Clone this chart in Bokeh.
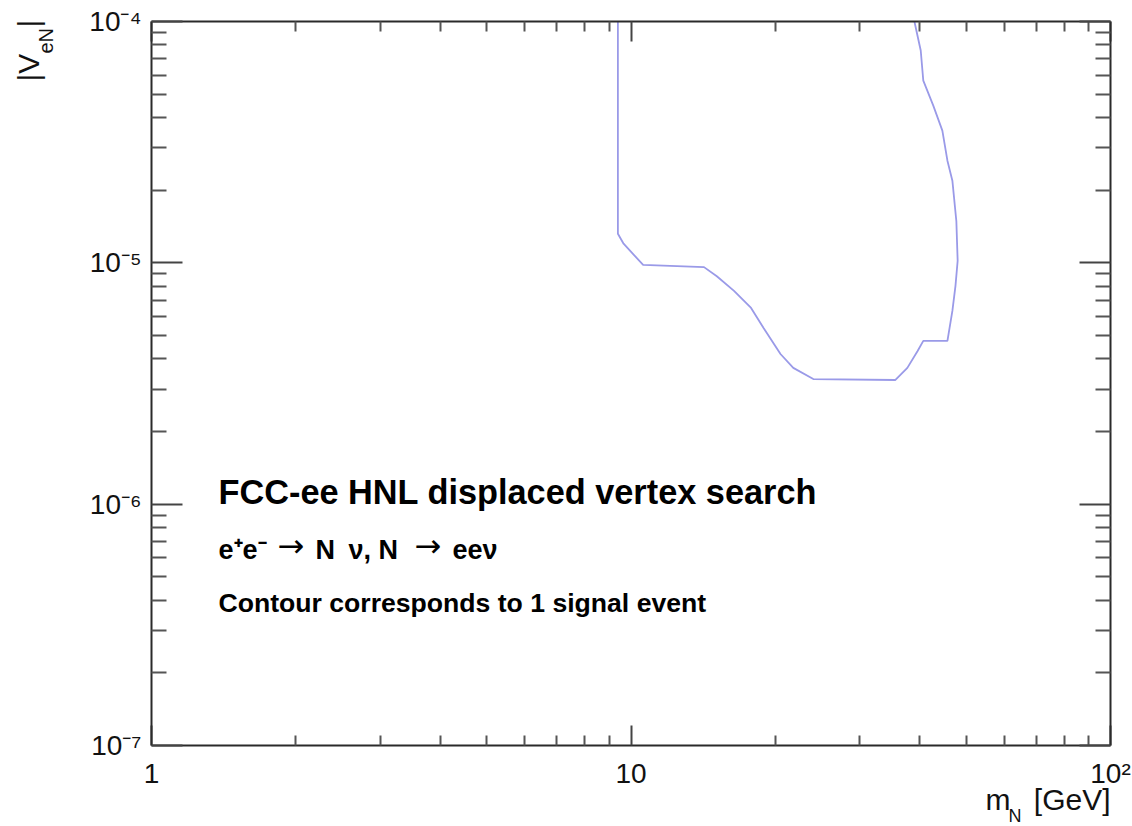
import math
from bokeh.plotting import figure
from bokeh.models import LogAxis, FixedTicker, CustomJSTickFormatter, Label, Range1d
from bokeh.embed import file_html
from bokeh.resources import INLINE

# ---- data ----
mass = [9.39, 9.39, 9.65, 10.6, 14.2, 15.1, 16.4, 17.8, 18.9, 20.5, 21.8, 24.0,
        35.6, 37.7, 39.6, 40.7, 45.7, 46.8, 47.5, 48.0, 47.7, 46.8, 45.7, 44.6,
        42.7, 40.7, 40.2, 39.0]
coupling = [1.0e-4, 1.32e-5, 1.20e-5, 9.8e-6, 9.6e-6, 8.8e-6, 7.65e-6, 6.5e-6,
            5.37e-6, 4.19e-6, 3.67e-6, 3.30e-6, 3.27e-6, 3.67e-6, 4.31e-6, 4.75e-6,
            4.75e-6, 6.32e-6, 8.03e-6, 1.02e-5, 1.49e-5, 2.19e-5, 2.65e-5, 3.53e-5,
            4.48e-5, 5.69e-5, 7.58e-5, 1.0e-4]

x_ticks = [1, 10, 100]
x_tick_labels = ["1", "10", "10²"]
y_ticks = [1e-7, 1e-6, 1e-5, 1e-4]
y_tick_labels = ["10⁻⁷", "10⁻⁶", "10⁻⁵", "10⁻⁴"]

title_text = "FCC-ee HNL displaced vertex search"
process_parts = ["e⁺e⁻", "→", "N", "ν, N", "→", "eeν"]
note_text = "Contour corresponds to 1 signal event"

FONT = "Liberation Sans"

# ---- layout: the axis box inside a full-canvas frame ----
W, H = 1132, 826
BOX_L, BOX_R, BOX_T, BOX_B = 151, 1110, 21, 745
lx0, lx1 = math.log10(x_ticks[0]), math.log10(x_ticks[-1])
ly0, ly1 = math.log10(y_ticks[0]), math.log10(y_ticks[-1])
sx = (lx1 - lx0) / (BOX_R - BOX_L)
sy = (ly1 - ly0) / (BOX_B - BOX_T)
x_range = Range1d(10 ** (lx0 - BOX_L * sx), 10 ** (lx1 + (W - BOX_R) * sx))
y_range = Range1d(10 ** (ly0 - (H - BOX_B) * sy), 10 ** (ly1 + BOX_T * sy))

def minor_of(ticks):
    out = []
    for t in ticks[:-1]:
        out += [t * k for k in range(2, 10)]
    return out

p = figure(width=W, height=H, x_axis_type="log", y_axis_type="log",
           x_range=x_range, y_range=y_range,
           output_backend="svg", toolbar_location=None,
           min_border=0, min_border_left=0, min_border_right=0,
           min_border_top=0, min_border_bottom=0)
p.title.visible = False
p.background_fill_color = "white"
p.border_fill_color = "white"
p.outline_line_color = None
p.xgrid.visible = False
p.ygrid.visible = False

p.line(mass, coupling, line_color="#9a9ae8", line_width=1.8)

def fmt(vals, labs):
    return CustomJSTickFormatter(args=dict(vals=vals, labs=labs), code="""
        let idx = -1;
        for (let i = 0; i < vals.length; i++) {
            if (Math.abs(Math.log10(vals[i]) - Math.log10(tick)) < 1e-6) { idx = i; }
        }
        return idx >= 0 ? labs[idx] : '';
    """)

def style(ax, ticks, loc, major_len, minor_len, labels=None):
    ax.ticker = FixedTicker(ticks=ticks, minor_ticks=minor_of(ticks))
    ax.fixed_location = loc
    ax.bounds = (ticks[0], ticks[-1])
    ax.major_tick_in = major_len
    ax.major_tick_out = 0
    ax.minor_tick_in = minor_len
    ax.minor_tick_out = 0
    ax.axis_line_color = "#2a2a2a"
    ax.axis_line_width = 2
    ax.major_tick_line_color = "#444444"
    ax.major_tick_line_width = 2
    ax.minor_tick_line_color = "#555555"
    ax.minor_tick_line_width = 2
    if labels is None:
        ax.formatter = CustomJSTickFormatter(code="return '';")
        ax.major_label_standoff = 0
    else:
        ax.formatter = fmt(ticks, labels)
        ax.major_label_text_font = FONT
        ax.major_label_text_font_size = "28px"
        ax.major_label_text_color = "#111111"

xb = p.xaxis[0]
yl = p.yaxis[0]
style(xb, x_ticks, y_ticks[0], 20, 10, x_tick_labels)
style(yl, y_ticks, x_ticks[0], 31, 15, y_tick_labels)
xb.major_label_standoff = 12
yl.major_label_standoff = 10

xt = LogAxis()
yr = LogAxis()
style(xt, x_ticks, y_ticks[-1], 20, 10)
style(yr, y_ticks, x_ticks[-1], 31, 15)
p.add_layout(xt, "above")
p.add_layout(yr, "right")

# ---- annotation text block ----
x0 = x_ticks[0]
ybot = y_ticks[0]
ytop = y_ticks[-1]
xend = x_ticks[-1]

p.add_layout(Label(x=x0, y=ybot, x_offset=67, y_offset=235, text=title_text,
                   text_font=FONT, text_font_size="34.3px", text_font_style="bold",
                   text_color="black"))

part_x = [67, 126, 164, 197, 263, 301]
for txt, xo in zip(process_parts, part_x):
    if txt == "→":
        p.add_layout(Label(x=x0, y=ybot, x_offset=xo, y_offset=181, text=txt,
                           text_font="DejaVu Sans", text_font_size="32px",
                           text_color="black"))
    else:
        p.add_layout(Label(x=x0, y=ybot, x_offset=xo, y_offset=181, text=txt,
                           text_font=FONT, text_font_size="27px",
                           text_font_style="bold", text_color="black"))

p.add_layout(Label(x=x0, y=ybot, x_offset=67, y_offset=128, text=note_text,
                   text_font=FONT, text_font_size="26.6px", text_font_style="bold",
                   text_color="black"))

# ---- x axis title: m_N [GeV], right aligned at the axis end ----
p.add_layout(Label(x=xend, y=ybot, x_offset=-125, y_offset=-70, text="m",
                   text_font=FONT, text_font_size="30px", text_color="#111111"))
p.add_layout(Label(x=xend, y=ybot, x_offset=-102, y_offset=-80, text="N",
                   text_font=FONT, text_font_size="18px", text_color="#111111"))
p.add_layout(Label(x=xend, y=ybot, x_offset=0, y_offset=-70, text="[GeV]",
                   text_align="right",
                   text_font=FONT, text_font_size="30px", text_color="#111111"))

# ---- y axis title: |V_eN|, rotated, at the top ----
ang = math.pi / 2
p.add_layout(Label(x=x0, y=ytop, x_offset=-107, y_offset=-60, text="|V", angle=ang,
                   text_font=FONT, text_font_size="30px", text_color="#111111"))
p.add_layout(Label(x=x0, y=ytop, x_offset=-95, y_offset=-32, text="eN", angle=ang,
                   text_font=FONT, text_font_size="20px", text_color="#111111"))
p.add_layout(Label(x=x0, y=ytop, x_offset=-107, y_offset=-6, text="|", angle=ang,
                   text_font=FONT, text_font_size="30px", text_color="#111111"))

open("out.html", "w").write(file_html(p, INLINE))
